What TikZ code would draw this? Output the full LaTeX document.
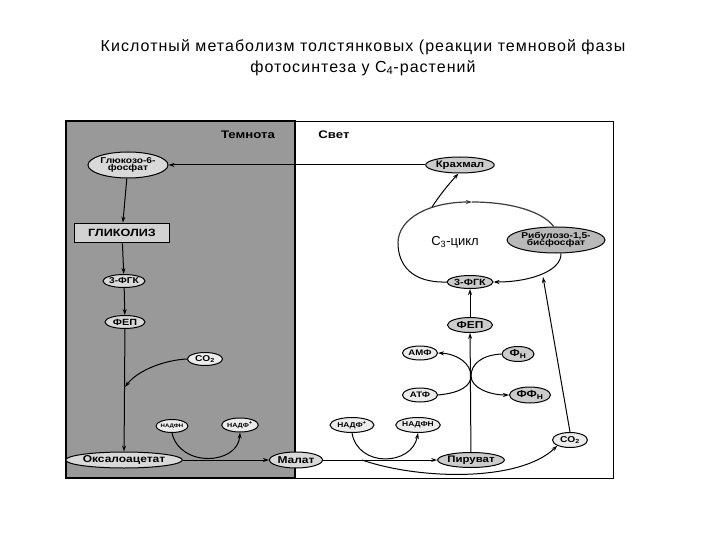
\documentclass[tikz,border=0pt]{standalone}
\usepackage{fontspec}
\setmainfont{Liberation Sans}
\newfontfamily\titlefont[LetterSpace=6.5]{Liberation Sans}
\newfontfamily\lblfont[FakeStretch=1.2]{Liberation Sans}
\newcommand{\fs}[1]{\fontsize{#1}{#1}\selectfont}
\usetikzlibrary{shapes.geometric,arrows.meta}
\definecolor{loopc}{RGB}{60,60,60}
\begin{document}
\begin{tikzpicture}[x=1pt,y=-1pt,
  el/.style={ellipse, draw, line width=1pt, inner sep=0pt, align=center,
    font=\lblfont\bfseries\fs{8}},
  lt/.style={fill=gray!15},
  md/.style={fill=gray!40},
  dk/.style={fill=gray!55},
  hd/.style={font=\lblfont\bfseries\fs{11}},
  arr/.style={-{Stealth[length=6pt,width=4pt]}, line width=1pt},
  ln/.style={line width=1.2pt}]
\useasboundingbox (0,0) rectangle (720,540);
\fill[white] (0,0) rectangle (720,540);
% title
\node[font=\titlefont\fs{16}] (t1) at (363,47) {Кислотный метаболизм толстянковых (реакции темновой фазы};
\node[font=\titlefont\fs{16}] (t2) at (363,68) {фотосинтеза у C\textsubscript{4}-растений};
% frame
\draw[line width=0.9pt] (66,121) rectangle (613,478);
\fill[black!40] (66,121) rectangle (295,478);
\draw[line width=1.6pt] (66,121) rectangle (295,478);
\node[hd] (temn) at (248,135) {Темнота};
\node[hd] (svet) at (334,135) {Свет};
% left nodes
\node[el, fill=gray!30, minimum width=80, minimum height=26, font=\lblfont\bfseries\fs{8.5}] (g6f) at (128,165) {Глюкозо-6-\\[-1pt]фосфат};
\node[draw, line width=1.6pt, fill=gray!35, minimum width=95, minimum height=19,
  font=\lblfont\bfseries\fs{10.5}] (glyc) at (122,233) {ГЛИКОЛИЗ};
\node[el, fill=gray!30, minimum width=39, minimum height=13, font=\lblfont\bfseries\fs{8.5}] (fgk1) at (124,281) {3-ФГК};
\node[el, fill=gray!30, minimum width=40, minimum height=13, font=\lblfont\bfseries\fs{9}] (fep1) at (125,322) {ФЕП};
\node[el, lt, minimum width=35, minimum height=13, font=\lblfont\bfseries\fs{8.5}] (co2a) at (205,359) {CO\textsubscript{2}};
\node[el, lt, minimum width=25, minimum height=13, font=\lblfont\bfseries\fs{5}] (nadphA) at (172,426) {НАДФН};
\node[el, lt, minimum width=34, minimum height=14, font=\lblfont\bfseries\fs{6}] (nadpA) at (240,425) {НАДФ\textsuperscript{+}};
\node[el, fill=gray!30, minimum width=98, minimum height=16, font=\lblfont\bfseries\fs{10}] (oxa) at (124,460) {Оксалоацетат};
\node[el, fill=gray!30, minimum width=53, minimum height=16, font=\lblfont\bfseries\fs{10}] (mal) at (296,460) {Малат};
% right nodes
\node[el, md, minimum width=64, minimum height=16, font=\lblfont\bfseries\fs{9.5}] (kr) at (460,165) {Крахмал};
\node[el, dk, minimum width=84, minimum height=26, font=\lblfont\bfseries\fs{8.5}] (rib) at (556,240) {Рибулозо-1,5-\\[-1pt]бисфосфат};
\node[el, md, minimum width=46, minimum height=13, font=\lblfont\bfseries\fs{9}] (fgk2) at (470,282) {3-ФГК};
\node[el, md, minimum width=45, minimum height=15, font=\lblfont\bfseries\fs{10}] (fep2) at (470,325) {ФЕП};
\node[el, lt, minimum width=35, minimum height=14] (amf) at (420,353) {АМФ};
\node[el, lt, minimum width=35, minimum height=14] (atf) at (420,395) {АТФ};
\node[el, md, minimum width=32, minimum height=15, font=\lblfont\bfseries\fs{10}] (fn) at (518,354) {Ф\textsubscript{Н}};
\node[el, md, minimum width=41, minimum height=16, font=\lblfont\bfseries\fs{10}] (ffn) at (530,395) {ФФ\textsubscript{Н}};
\node[el, lt, minimum width=44, minimum height=15, font=\lblfont\bfseries\fs{7}] (nadpB) at (352,425) {НАДФ\textsuperscript{+}};
\node[el, lt, minimum width=40, minimum height=15, font=\lblfont\bfseries\fs{7}] (nadphB) at (418,425) {НАДФН};
\node[el, md, minimum width=64, minimum height=15, font=\lblfont\bfseries\fs{9.5}] (pyr) at (471,460) {Пируват};
\node[el, lt, minimum width=35, minimum height=15, font=\lblfont\bfseries\fs{8.5}] (co2b) at (570,440) {CO\textsubscript{2}};
\node[font=\fs{13}] (c3) at (455,242) {C\textsubscript{3}-цикл};
% coordinates
\coordinate (j1) at (125,387);
\coordinate (c3top) at (472,202);
\coordinate (lp) at (432,207);
\coordinate (br) at (362,460);
\coordinate (ribin) at (543,277);
\coordinate (cross) at (471,376);
% left connectors
\draw[arr] (kr.west) -- (g6f.east);
\draw[arr] (g6f) -- (glyc);
\draw[arr] (glyc) -- (fgk1);
\draw[arr] (fgk1) -- (fep1);
\draw[arr] (fep1) -- (oxa);
\draw[arr] (co2a.west) .. controls (165,360) and (138,370) .. (j1);
\draw[arr] (nadphA.south) .. controls (180,468) and (238,465) .. (nadpA.south);
\draw[arr] (oxa) -- (mal);
% C3 loop
\draw[line width=1pt] (fgk2.west) .. controls (412,283) and (398,265) .. (398,243);
\draw[arr, loopc, line width=1.2pt] (398,243) .. controls (398,218) and (430,202) .. (c3top);
\draw[ln, loopc] (c3top) .. controls (512,202) and (543,212) .. (rib.100);
\draw[arr] (rib.-70) .. controls (562,270) and (532,282) .. (fgk2.east);
\draw[arr] (lp) .. controls (440,195) and (447,186) .. (kr.-100);
\draw[arr] (fep2) -- (fgk2);
\draw[arr] (pyr) -- (fep2);
\draw[arr] (atf.east) .. controls (460,393) and (471,386) .. (cross)
   .. controls (471,364) and (458,354) .. (amf.east);
\draw[arr] (fn.west) .. controls (482,355) and (471,364) .. (cross)
   .. controls (471,388) and (490,395) .. (ffn.west);
\draw[arr] (mal) -- (pyr);
\draw[arr] (nadpB.south) .. controls (358,468) and (412,466) .. (nadphB.south);
\draw[arr] (br) .. controls (420,480) and (520,482) .. (co2b.south west);
\draw[arr] (co2b.north) -- (ribin);
\end{tikzpicture}
\end{document}
